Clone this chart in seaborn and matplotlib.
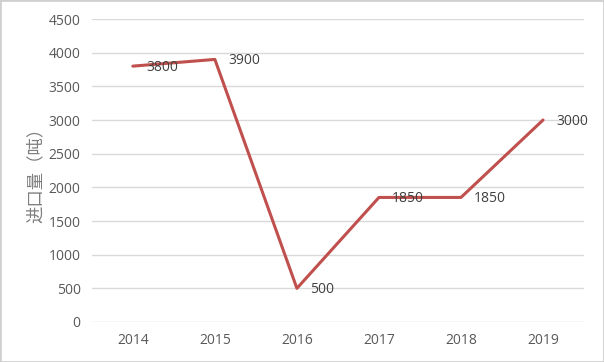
import matplotlib
matplotlib.use("Agg")
import matplotlib.pyplot as plt
import seaborn as sns
import pandas as pd

years = ["2014", "2015", "2016", "2017", "2018", "2019"]
values = [3800, 3900, 500, 1850, 1850, 3000]
labels = ["3800", "3900", "500", "1850", "1850", "3000"]

sns.set_theme(style="white")
plt.rcParams['font.family'] = ['Open Sans', 'Noto Sans CJK SC', 'DejaVu Sans']

df = pd.DataFrame({"year": years, "value": values})

fig = plt.figure(figsize=(6.04, 3.62), dpi=100)
ax = fig.add_axes([0.152, 0.1105, 0.815, 0.837])
sns.lineplot(data=df, x="year", y="value", ax=ax, color="#C0504D", linewidth=2.2, sort=False)

for i, (v, t) in enumerate(zip(values, labels)):
    ax.text(i + 0.16, v - 20, t, ha="left", va="center", fontsize=10, color="#404040")

ax.set_xlim(-0.5, 5.5)
ax.set_ylim(0, 4500)
ax.set_yticks(range(0, 4501, 500))
ax.grid(axis="y", color="#D9D9D9", linewidth=1)
ax.set_axisbelow(True)
for s in ax.spines.values():
    s.set_visible(False)
ax.tick_params(axis="both", length=0, labelsize=10, colors="#595959", pad=8)
ax.set_xlabel("")
ax.set_ylabel("进口量（吨）", fontsize=12.5, color="#7F7F7F", family=['Noto Sans CJK SC'], labelpad=3)

fig.patches.append(plt.Rectangle((0, 0), 1, 1, transform=fig.transFigure, fill=False,
                                 edgecolor="#D0D0D0", linewidth=2))
fig.savefig("out.png", dpi=100)
